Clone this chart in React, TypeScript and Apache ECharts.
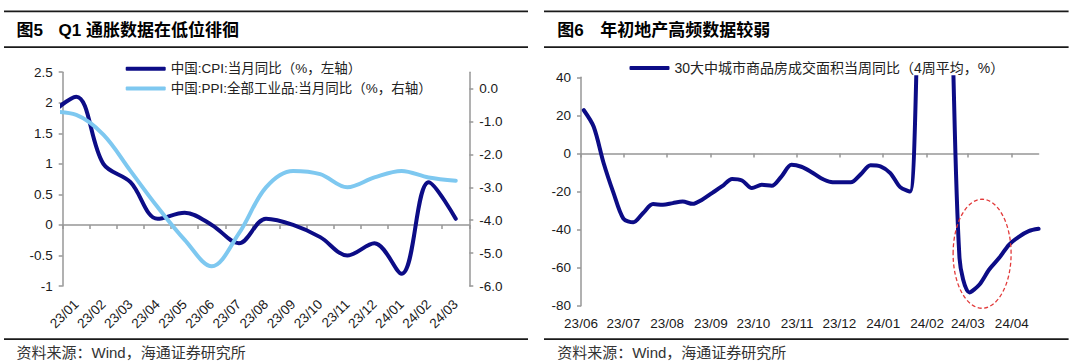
import React, { useEffect, useRef } from "react";
import * as echarts from "echarts";

// ---------- Left chart (图5) ----------
const leftCategories = ["23/01", "23/02", "23/03", "23/04", "23/05", "23/06", "23/07", "23/08", "23/09", "23/10", "23/11", "23/12", "24/01", "24/02", "24/03"];
const cpiPrevMonth = 1.8; // 22/12, only its segment into the plot is visible
const ppiPrevMonth = -0.7;
const cpiValues = [2.1, 1.0, 0.7, 0.1, 0.2, 0.0, -0.3, 0.1, 0.0, -0.2, -0.5, -0.3, -0.8, 0.7, 0.1];
const ppiValues = [-0.8, -1.4, -2.5, -3.6, -4.6, -5.4, -4.4, -3.0, -2.5, -2.6, -3.0, -2.7, -2.5, -2.7, -2.8];
const ppiAxisTicks = [-6, -5, -4, -3, -2, -1, 0];
const cpiName = "中国:CPI:当月同比（%，左轴）";
const ppiName = "中国:PPI:全部工业品:当月同比（%，右轴）";

// ---------- Right chart (图6) ----------
const weekDates = [
  "2023-06-03", "2023-06-10", "2023-06-17", "2023-06-24",
  "2023-07-01", "2023-07-08", "2023-07-15", "2023-07-22", "2023-07-29",
  "2023-08-05", "2023-08-12", "2023-08-19", "2023-08-26",
  "2023-09-02", "2023-09-09", "2023-09-16", "2023-09-23", "2023-09-30",
  "2023-10-07", "2023-10-14", "2023-10-21", "2023-10-28",
  "2023-11-04", "2023-11-11", "2023-11-18", "2023-11-25",
  "2023-12-02", "2023-12-09", "2023-12-16", "2023-12-23", "2023-12-30",
  "2024-01-06", "2024-01-13", "2024-01-20", "2024-01-27",
  "2024-02-03", "2024-02-10", "2024-02-17", "2024-02-24",
  "2024-03-02", "2024-03-09", "2024-03-16", "2024-03-23", "2024-03-30",
  "2024-04-06", "2024-04-13", "2024-04-20",
];
const salesYoY = [
  22.7, 14.0, -5.0, -20.7,
  -34.2, -36.2, -31.3, -26.6, -27.0,
  -26.1, -25.3, -26.5, -24.2,
  -20.7, -17.2, -13.4, -14.2, -18.2,
  -16.5, -17.0, -12.0, -6.0,
  -7.0, -9.7, -13.0, -15.0,
  -15.2, -15.2, -11.0, -6.2, -6.8,
  -10.3, -17.7, -20.0, 95,
  135, 145, 100, -55,
  -73, -69, -61, -55, -48,
  -43.8, -40.8, -39.6,
];
const salesName = "30大中城市商品房成交面积当周同比（4周平均，%）";
const monthTicks = ["2023-06-01", "2023-07-01", "2023-08-01", "2023-09-01", "2023-10-01", "2023-11-01", "2023-12-01", "2024-01-01", "2024-02-01", "2024-03-01", "2024-04-01"];
const monthLabels = ["23/06", "23/07", "23/08", "23/09", "23/10", "23/11", "23/12", "24/01", "24/02", "24/03", "24/04"];
const highlightCenter: [string, number] = ["2024-03-11", -52.7];

// days since the first month tick (axis origin)
const utc = (s: string) => {
  const [y, m, d] = s.split("-").map(Number);
  return Date.UTC(y, m - 1, d);
};
const toDay = (s: string) => Math.round((utc(s) - utc(monthTicks[0])) / 86400000);

const FONT = "'Liberation Sans', Arial, 'Noto Sans CJK SC', sans-serif";
const NAVY = "#0c0c86";
const LIGHT = "#7ec8f0";
const AXIS = "#979797";
const TEXT = "#1a1a1a";

export default function App() {
  const ref = useRef<HTMLDivElement>(null);

  useEffect(() => {
    if (!ref.current) return;
    const chart = echarts.init(ref.current, null, { renderer: "svg" });
    const monthDays = monthTicks.map(toDay);
    const lastDay = toDay(weekDates[weekDates.length - 1]);

    const rule = (x1: number, x2: number, y: number) => ({
      type: "line",
      shape: { x1, y1: y, x2, y2: y },
      style: { stroke: TEXT, lineWidth: 1.8 },
    });
    const txt = (x: number, y: number, text: string, font: string, fill: string) => ({
      type: "text",
      style: { x, y, text, font, fill, verticalAlign: "middle", textVerticalAlign: "middle" },
    });

    const baseGraphic: any[] = [
      rule(4, 528, 11.4),
      rule(4, 528, 47.2),
      rule(4, 528, 339.2),
      rule(544, 1068.6, 11.4),
      rule(544, 1068.6, 47.2),
      rule(544, 1068.6, 339.2),
      txt(16.5, 30.3, "图5", `bold 17px ${FONT}`, "#000"),
      txt(58.5, 30.3, "Q1 通胀数据在低位徘徊", `bold 17px ${FONT}`, "#000"),
      txt(557.2, 30.3, "图6", `bold 17px ${FONT}`, "#000"),
      txt(600.3, 30.3, "年初地产高频数据较弱", `bold 17px ${FONT}`, "#000"),
      txt(16.5, 352.3, "资料来源：Wind，海通证券研究所", `15px ${FONT}`, "#333"),
      txt(557.2, 352.3, "资料来源：Wind，海通证券研究所", `15px ${FONT}`, "#333"),
    ];

    const labelStyle = { color: TEXT, fontSize: 13.5, fontFamily: FONT };
    const legendBase = {
      orient: "horizontal",
      icon: "roundRect",
      itemWidth: 40,
      itemHeight: 4,
      padding: 0,
    };

    chart.setOption({
      animation: false,
      backgroundColor: "#fff",
      grid: [
        { left: 62.7, top: 72.2, width: 406.6, height: 213.8, containLabel: false },
        { left: 581, top: 77.3, width: 457.6, height: 228.4, containLabel: false },
      ],
      legend: [
        { ...legendBase, data: [cpiName], left: 125.7, top: 62.1, textStyle: { color: "#222", fontSize: 13.5, fontFamily: FONT } },
        { ...legendBase, data: [ppiName], left: 125.7, top: 81.7, textStyle: { color: "#222", fontSize: 13.5, fontFamily: FONT } },
        { ...legendBase, data: [salesName], left: 629.5, top: 61.1, textStyle: { color: "#222", fontSize: 14, fontFamily: FONT } },
      ],
      xAxis: [
        {
          type: "value",
          gridIndex: 0,
          min: 0,
          max: leftCategories.length,
          interval: 1,
          position: "bottom",
          axisLine: { show: true, onZero: true, onZeroAxisIndex: 0, lineStyle: { color: AXIS, width: 1.5 } },
          axisTick: { show: true, length: 4, lineStyle: { color: AXIS, width: 1.5 } },
          axisLabel: { show: false },
          splitLine: { show: false },
        },
        {
          type: "category",
          gridIndex: 0,
          data: leftCategories,
          boundaryGap: true,
          position: "bottom",
          axisLine: { show: false, onZero: false },
          axisTick: { show: false },
          axisLabel: { ...labelStyle, rotate: 45, interval: 0, margin: 16 },
          splitLine: { show: false },
        },
        {
          type: "value",
          gridIndex: 1,
          min: 0,
          max: lastDay,
          position: "bottom",
          axisLine: { show: true, onZero: true, lineStyle: { color: AXIS, width: 1.5 } },
          axisTick: { show: true, length: 4, customValues: monthDays, lineStyle: { color: AXIS, width: 1.5 } },
          axisLabel: { show: false },
          splitLine: { show: false },
        },
        {
          type: "value",
          gridIndex: 1,
          min: 0,
          max: lastDay,
          position: "bottom",
          axisLine: { show: false, onZero: false },
          axisTick: { show: false },
          axisLabel: {
            ...labelStyle,
            margin: 11,
            customValues: monthDays,
            formatter: (v: number) => {
              const i = monthDays.indexOf(Math.round(v));
              return i >= 0 ? monthLabels[i] : "";
            },
          },
          splitLine: { show: false },
        },
      ],
      yAxis: [
        {
          type: "value",
          gridIndex: 0,
          position: "left",
          min: -1,
          max: 2.5,
          interval: 0.5,
          axisLine: { show: true, onZero: false, lineStyle: { color: AXIS, width: 1.5 } },
          axisTick: { show: true, length: 4, lineStyle: { color: AXIS, width: 1.5 } },
          axisLabel: { ...labelStyle, margin: 10 },
          splitLine: { show: false },
        },
        {
          type: "value",
          gridIndex: 0,
          position: "right",
          min: -6,
          max: 0.5,
          interval: 1,
          axisLine: { show: true, onZero: false, lineStyle: { color: AXIS, width: 1.5 } },
          axisTick: { show: true, length: 4, customValues: ppiAxisTicks, lineStyle: { color: AXIS, width: 1.5 } },
          axisLabel: {
            ...labelStyle,
            margin: 10,
            customValues: ppiAxisTicks,
            formatter: (v: number) => (Number.isInteger(v) ? v.toFixed(1) : ""),
          },
          splitLine: { show: false },
        },
        {
          type: "value",
          gridIndex: 1,
          position: "left",
          min: -80,
          max: 40,
          interval: 20,
          axisLine: { show: true, onZero: false, lineStyle: { color: AXIS, width: 1.5 } },
          axisTick: { show: true, length: 4, lineStyle: { color: AXIS, width: 1.5 } },
          axisLabel: { ...labelStyle, margin: 10 },
          splitLine: { show: false },
        },
      ],
      series: [
        {
          name: cpiName,
          type: "line",
          xAxisIndex: 0,
          yAxisIndex: 0,
          data: [[-0.5, cpiPrevMonth], ...cpiValues.map((v, i) => [i + 0.5, v])],
          smooth: 0.35,
          symbol: "none",
          clip: true,
          lineStyle: { color: NAVY, width: 4, cap: "round", join: "round" },
          itemStyle: { color: NAVY },
        },
        {
          name: ppiName,
          type: "line",
          xAxisIndex: 0,
          yAxisIndex: 1,
          data: [[-0.5, ppiPrevMonth], ...ppiValues.map((v, i) => [i + 0.5, v])],
          smooth: 0.35,
          symbol: "none",
          clip: true,
          lineStyle: { color: LIGHT, width: 4, cap: "round", join: "round" },
          itemStyle: { color: LIGHT },
        },
        {
          name: salesName,
          type: "line",
          xAxisIndex: 2,
          yAxisIndex: 2,
          data: weekDates.map((d, i) => [toDay(d), salesYoY[i]]),
          smooth: 0.3,
          symbol: "none",
          clip: true,
          lineStyle: { color: NAVY, width: 4, cap: "round", join: "round" },
          itemStyle: { color: NAVY },
        },
      ],
      graphic: baseGraphic,
    });

    const c = chart.convertToPixel({ seriesIndex: 2 }, [toDay(highlightCenter[0]), highlightCenter[1]]) as number[];
    if (c && isFinite(c[0]) && isFinite(c[1])) {
      chart.setOption({
        graphic: [
          ...baseGraphic,
          {
            type: "ellipse",
            shape: { cx: c[0], cy: c[1], rx: 29, ry: 54.5 },
            style: { fill: "none", stroke: "#e23a3a", lineWidth: 1.3, lineDash: [4, 2.5] },
            z: 10,
          },
        ],
      });
    }

    return () => chart.dispose();
  }, []);

  return <div ref={ref} style={{ position: "absolute", left: 0, top: 0, width: 1080, height: 361 }} />;
}
